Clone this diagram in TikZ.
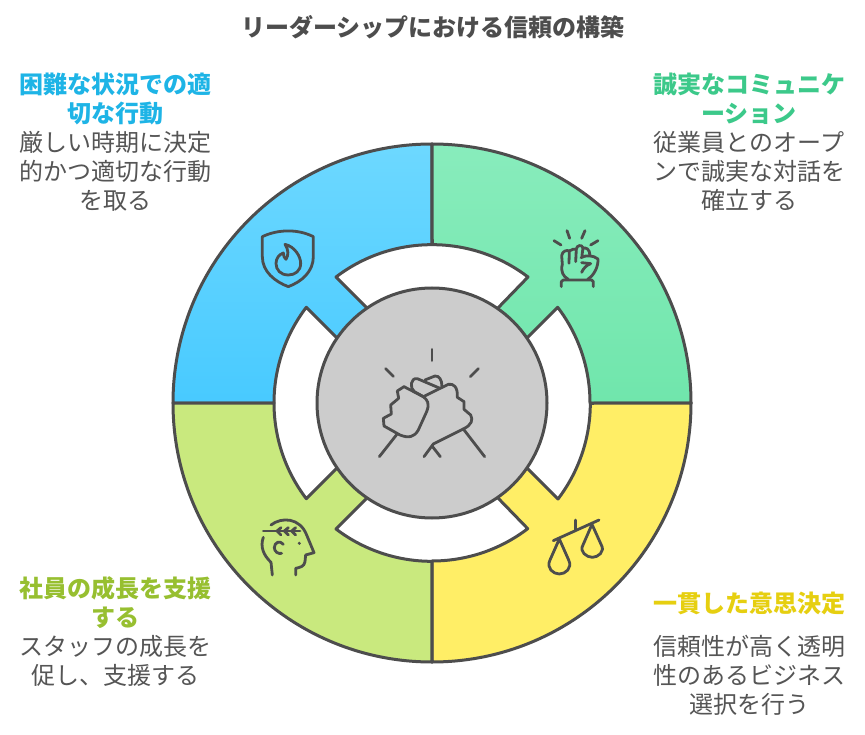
\documentclass[tikz,border=0pt]{standalone}
\usepackage{fontspec}
\setmainfont{Noto Sans CJK JP}
\definecolor{linegray}{HTML}{4D4D4D}
\definecolor{textgray}{HTML}{555555}
\definecolor{hubgray}{HTML}{CCCCCC}
\definecolor{blueTop}{HTML}{6DD8FF}
\definecolor{blueBot}{HTML}{48CAFF}
\definecolor{greenTop}{HTML}{88ECBC}
\definecolor{greenBot}{HTML}{70E6AC}
\definecolor{limeFill}{HTML}{C9E97E}
\definecolor{yellowFill}{HTML}{FFEE66}
\definecolor{blueHead}{HTML}{1EB4E6}
\definecolor{greenHead}{HTML}{3CC98A}
\definecolor{limeHead}{HTML}{97BF30}
\definecolor{yellowHead}{HTML}{E6CF10}
\tikzset{
  sector/.style={draw=linegray,line width=3pt,line join=round},
  icon/.style={draw=linegray,line width=2.8pt,line cap=round,line join=round},
  label/.style={align=center,inner sep=0pt,font=\fontsize{24}{29}\selectfont},
  head/.style={label,font=\fontsize{24}{29}\selectfont\bfseries},
  descr/.style={label,text=textgray}
}
\begin{document}
\begin{tikzpicture}[x=1pt,y=-1pt]
 \useasboundingbox (0,0) rectangle (865,735);
 \fill[white] (0,0) rectangle (865,735);
 % the four sectors
 \draw[sector,top color=blueTop,middle color=blueTop,bottom color=blueBot] (432,144) arc[start angle=270,end angle=180,radius=259] -- (274,403) arc[start angle=180,end angle=217.3,radius=158] -- (337,338) -- (368,309) -- (336,277) arc[start angle=232.7,end angle=270,radius=158] -- cycle;
 \draw[sector,top color=greenTop,middle color=greenTop,bottom color=greenBot] (432,144) arc[start angle=270,end angle=360,radius=259] -- (590,403) arc[start angle=360,end angle=322.7,radius=158] -- (527,338) -- (497,309) -- (528,277) arc[start angle=307.3,end angle=270,radius=158] -- cycle;
 \draw[sector,fill=yellowFill] (691,403) arc[start angle=0,end angle=90,radius=259] -- (432,561) arc[start angle=90,end angle=52.7,radius=158] -- (497,497) -- (527,468) -- (558,499) arc[start angle=37.3,end angle=0,radius=158] -- cycle;
 \draw[sector,fill=limeFill] (432,662) arc[start angle=90,end angle=180,radius=259] -- (274,403) arc[start angle=180,end angle=142.7,radius=158] -- (337,468) -- (368,497) -- (336,529) arc[start angle=127.3,end angle=90,radius=158] -- cycle;
 \draw[sector,fill=hubgray] (432,403) circle[radius=115];
 % handshake
 \begin{scope}[shift={(320,290)},x=.3333pt,y=-.3333pt]
  \draw[icon] (336,178) -- (336,212);
  \draw[icon] (197,236) -- (220,259);
  \draw[icon] (475,236) -- (451,260);
  \draw[icon] (178,500) -- (230,434);
  \draw[icon] (494,500) -- (430,417);
  \draw[icon] (312,500) -- (340,462) -- (430,417);
  \draw[icon] (336,468) -- (361,500);
  \draw[icon] (252,290) -- (232,303) -- (236,325) -- (212,345) -- (214,372) -- (190,385) -- (192,408) -- (240,435) .. controls (265,445) and (283,442) .. (295,420) -- (320,365) .. controls (330,340) and (322,330) .. (310,320) -- cycle;
  \draw[icon] (310,320) -- (283,305) .. controls (268,295) and (272,262) .. (292,266) -- (360,295);
  \draw[icon] (315,270) -- (345,258) .. controls (358,257) and (366,270) .. (366,290);
  \draw[icon] (310,320) -- (385,283) .. controls (400,280) and (414,290) .. (412,322) -- (432,335) -- (432,358) -- (452,375) .. controls (460,390) and (455,405) .. (430,417);
 \end{scope}
 % shield
 \begin{scope}[shift={(240,215)},x=.3333pt,y=-.3333pt]
  \draw[icon] (67,65) .. controls (115,42) and (175,42) .. (220,65) -- (220,125) .. controls (220,170) and (185,200) .. (145,215) .. controls (105,200) and (67,170) .. (67,125) -- cycle;
  \draw[icon] (135,88) .. controls (165,95) and (182,125) .. (182,145) .. controls (182,168) and (165,180) .. (145,180) .. controls (122,180) and (108,165) .. (108,145) .. controls (108,130) and (118,118) .. (130,114) .. controls (130,122) and (133,130) .. (138,133) .. controls (146,120) and (146,105) .. (135,88) -- cycle;
 \end{scope}
 % fist
 \begin{scope}[shift={(535,215)},x=.3333pt,y=-.3333pt]
  \draw[icon] (57,77) -- (78,90);
  \draw[icon] (96,47) -- (104,70);
  \draw[icon] (150,47) -- (140,70);
  \draw[icon] (189,77) -- (167,90);
  \draw[icon] (79,215) -- (79,200) -- (85,195) -- (170,195) -- (175,200) -- (175,215);
  \draw[icon] (82,148) -- (80,122) .. controls (82,108) and (95,104) .. (103,108) -- (102,145);
  \draw[icon] (103,108) .. controls (108,104) and (118,101) .. (124,102) -- (122,140);
  \draw[icon] (124,102) .. controls (126,90) and (140,88) .. (144,98) -- (141,122);
  \draw[icon] (144,100) .. controls (152,96) and (165,102) .. (165,122);
  \draw[icon] (82,148) .. controls (76,170) and (85,185) .. (100,193);
  \draw[icon] (158,193) .. controls (178,180) and (190,155) .. (189,132) .. controls (175,120) and (150,120) .. (138,128);
  \draw[icon] (140,143) -- (167,146) .. controls (155,150) and (145,160) .. (140,172);
 \end{scope}
 % scales
 \begin{scope}[shift={(530,505)},x=.3333pt,y=-.3333pt]
  \draw[icon] (70,107) -- (207,45);
  \draw[icon] (137,45) -- (137,75);
  \draw[icon] (88,102) -- (60,165) .. controls (48,190) and (70,207) .. (88,207) .. controls (106,207) and (128,190) .. (116,165) -- cycle;
  \draw[icon] (186,58) -- (159,120) .. controls (147,140) and (170,157) .. (187,157) .. controls (204,157) and (226,140) .. (214,120) -- cycle;
 \end{scope}
 % head
 \begin{scope}[shift={(245,505)},x=.3333pt,y=-.3333pt]
  \draw[icon] (55,78) -- (165,78);
  \draw[icon] (108,68) -- (96,78) -- (108,90);
  \draw[icon] (130,68) -- (118,78) -- (130,90);
  \draw[icon] (152,68) -- (140,78) -- (152,90);
  \draw[icon] (78,60) .. controls (110,35) and (165,38) .. (185,90) -- (207,143) -- (182,150) -- (180,170) .. controls (178,185) and (165,187) .. (152,190) -- (152,210);
  \draw[icon] (55,97) .. controls (45,125) and (55,150) .. (78,172) -- (82,210);
  \draw[icon] (115,118) .. controls (105,105) and (88,112) .. (88,128) .. controls (88,140) and (100,148) .. (110,145);
  \fill[linegray] (163,115) circle[radius=5];
 \end{scope}
 % texts
 \node[head,text=linegray] (title) at (433,27) {リーダーシップにおける信頼の構築};
 \node[head,text=blueHead] (headBlue) at (115.5,99) {困難な状況での適\\切な行動};
 \node[descr] (textBlue) at (115.5,171) {厳しい時期に決定\\的かつ適切な行動\\を取る};
 \node[head,text=greenHead] (headGreen) at (749,99) {誠実なコミュニケ\\ーション};
 \node[descr] (textGreen) at (749,171) {従業員とのオープ\\ンで誠実な対話を\\確立する};
 \node[head,text=limeHead] (headLime) at (115.5,603) {社員の成長を支援\\する};
 \node[descr] (textLime) at (115.5,661) {スタッフの成長を\\促し、支援する};
 \node[head,text=yellowHead] (headYellow) at (749,603) {一貫した意思決定};
 \node[descr] (textYellow) at (749,675) {信頼性が高く透明\\性のあるビジネス\\選択を行う};
\end{tikzpicture}
\end{document}
